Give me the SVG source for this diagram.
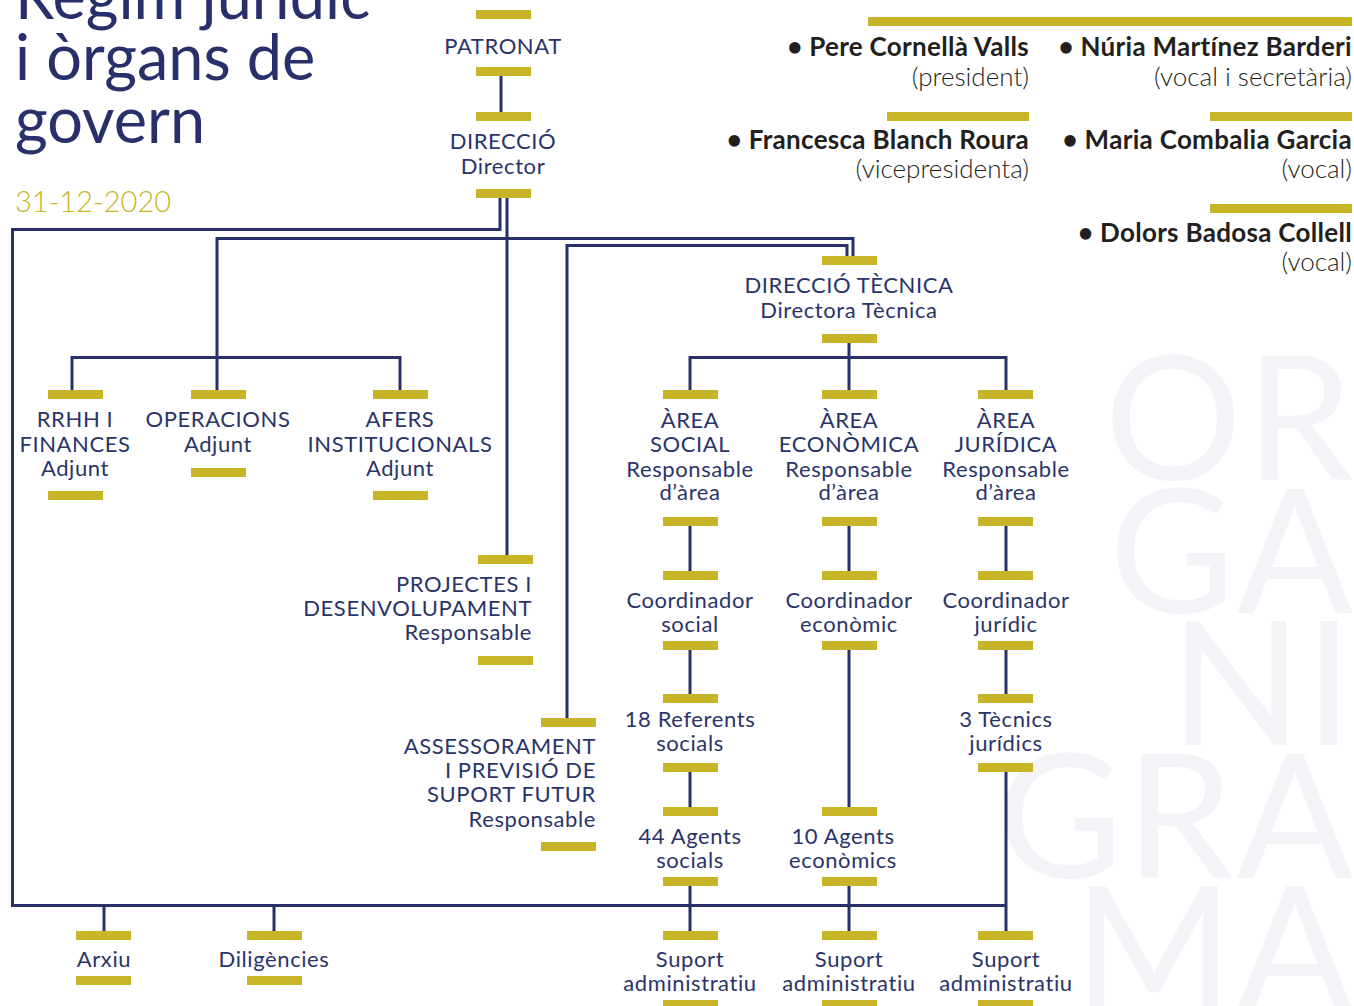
<svg xmlns="http://www.w3.org/2000/svg" width="1354" height="1006" viewBox="0 0 1354 1006">
<style>
.bar{fill:#C7B427}
.t{font-family:Lato,"Open Sans",sans-serif;font-size:22px;letter-spacing:0.6px;fill:#2A3468;text-anchor:middle}
.r{text-anchor:end}
.nm{font-family:Lato,"Open Sans",sans-serif;font-size:26px;font-weight:700;letter-spacing:0.3px;fill:#231F20;text-anchor:end}
.sb{font-family:Lato,"Open Sans",sans-serif;font-size:26px;font-weight:300;fill:#231F20;text-anchor:end}
.wm{font-family:Lato,"Open Sans",sans-serif;font-size:172px;font-weight:400;letter-spacing:3px;fill:#F4F3F7;text-anchor:end}
.title{font-family:Lato,"Open Sans",sans-serif;font-size:63px;fill:#27306B}
.date{font-family:Lato,"Open Sans",sans-serif;font-size:29px;font-weight:300;fill:#C7B427}
.cn{fill:none;stroke:#27306B;stroke-width:3}
</style>
<rect width="1354" height="1006" fill="#FFFFFF"/>
<g id="watermark">
<text class="wm" x="1356" y="480">OR</text>
<text class="wm" x="1356" y="613">GA</text>
<text class="wm" x="1356" y="745">NI</text>
<text class="wm" x="1356" y="878">GRA</text>
<text class="wm" x="1356" y="1010">MA</text>
</g>
<g id="title">
<text class="title" x="15" y="19">Règim jurídic</text>
<text class="title" x="15" y="80">i òrgans de</text>
<text class="title" x="15" y="143">govern</text>
<text class="date" x="15" y="212">31-12-2020</text>
</g>
<g id="patronat-members">
<rect class="bar" x="868" y="17" width="484" height="9"/>
<text class="nm" x="1029" y="56">• Pere Cornellà Valls</text>
<text class="sb" x="1029" y="86">(president)</text>
<text class="nm" x="1352" y="56">• Núria Martínez Barderi</text>
<text class="sb" x="1352" y="86">(vocal i secretària)</text>
<rect class="bar" x="887" y="112" width="142" height="9"/>
<rect class="bar" x="1210" y="112" width="142" height="9"/>
<text class="nm" x="1029" y="149">• Francesca Blanch Roura</text>
<text class="sb" x="1029" y="178">(vicepresidenta)</text>
<text class="nm" x="1352" y="149">• Maria Combalia Garcia</text>
<text class="sb" x="1352" y="178">(vocal)</text>
<rect class="bar" x="1210" y="204" width="142" height="9"/>
<text class="nm" x="1352" y="242">• Dolors Badosa Collell</text>
<text class="sb" x="1352" y="271">(vocal)</text>
</g>
<g id="connectors">
<path class="cn" d="M501,76 V112"/>
<path class="cn" d="M500,198 V229.5 H12.5 V905.5 H1006"/>
<path class="cn" d="M507,198 V555"/>
<path class="cn" d="M217,390 V238.5 H853 V256"/>
<path class="cn" d="M567,718 V245.5 H847 V256"/>
<path class="cn" d="M72,390 V357.5 H400 V390"/>
<path class="cn" d="M849,343 V390"/>
<path class="cn" d="M690,390 V357.5 H1006 V390"/>
<path class="cn" d="M690,526 V571 M690,650 V694 M690,772 V807 M690,886 V931"/>
<path class="cn" d="M849,526 V571 M849,650 V807 M849,886 V931"/>
<path class="cn" d="M1006,526 V571 M1006,650 V694 M1006,772 V931"/>
<path class="cn" d="M104,905 V931 M274,905 V931"/>
</g>
<g id="node-patronat">
<rect class="bar" x="476" y="10" width="55" height="9"/>
<text class="t" x="503" y="54">PATRONAT</text>
<rect class="bar" x="476" y="67" width="55" height="9"/>
</g>
<g id="node-direccio">
<rect class="bar" x="476" y="112" width="55" height="9"/>
<text class="t" x="503" y="149">DIRECCIÓ</text>
<text class="t" x="503" y="174">Director</text>
<rect class="bar" x="476" y="189" width="55" height="9"/>
</g>
<g id="node-rrhh">
<rect class="bar" x="48" y="390" width="55" height="9"/>
<text class="t" x="75" y="427">RRHH I</text>
<text class="t" x="75" y="452">FINANCES</text>
<text class="t" x="75" y="476">Adjunt</text>
<rect class="bar" x="48" y="491" width="55" height="9"/>
</g>
<g id="node-operacions">
<rect class="bar" x="191" y="390" width="55" height="9"/>
<text class="t" x="218" y="427">OPERACIONS</text>
<text class="t" x="218" y="452">Adjunt</text>
<rect class="bar" x="191" y="468" width="55" height="9"/>
</g>
<g id="node-afers">
<rect class="bar" x="373" y="390" width="55" height="9"/>
<text class="t" x="400" y="427">AFERS</text>
<text class="t" x="400" y="452">INSTITUCIONALS</text>
<text class="t" x="400" y="476">Adjunt</text>
<rect class="bar" x="373" y="491" width="55" height="9"/>
</g>
<g id="node-projectes">
<rect class="bar" x="478" y="555" width="55" height="9"/>
<text class="t r" x="532" y="592">PROJECTES I</text>
<text class="t r" x="532" y="616">DESENVOLUPAMENT</text>
<text class="t r" x="532" y="640">Responsable</text>
<rect class="bar" x="478" y="656" width="55" height="9"/>
</g>
<g id="node-assessorament">
<rect class="bar" x="541" y="718" width="55" height="9"/>
<text class="t r" x="596" y="754">ASSESSORAMENT</text>
<text class="t r" x="596" y="778">I PREVISIÓ DE</text>
<text class="t r" x="596" y="802">SUPORT FUTUR</text>
<text class="t r" x="596" y="827">Responsable</text>
<rect class="bar" x="541" y="842" width="55" height="9"/>
</g>
<g id="node-direccio-tecnica">
<rect class="bar" x="822" y="256" width="55" height="9"/>
<text class="t" x="849" y="293">DIRECCIÓ TÈCNICA</text>
<text class="t" x="849" y="318">Directora Tècnica</text>
<rect class="bar" x="822" y="334" width="55" height="9"/>
</g>
<g id="node-area-social">
<rect class="bar" x="663" y="390" width="55" height="9"/>
<text class="t" x="690" y="428">ÀREA</text>
<text class="t" x="690" y="452">SOCIAL</text>
<text class="t" x="690" y="477">Responsable</text>
<text class="t" x="690" y="500">d’àrea</text>
<rect class="bar" x="663" y="517" width="55" height="9"/>
</g>
<g id="node-area-economica">
<rect class="bar" x="822" y="390" width="55" height="9"/>
<text class="t" x="849" y="428">ÀREA</text>
<text class="t" x="849" y="452">ECONÒMICA</text>
<text class="t" x="849" y="477">Responsable</text>
<text class="t" x="849" y="500">d’àrea</text>
<rect class="bar" x="822" y="517" width="55" height="9"/>
</g>
<g id="node-area-juridica">
<rect class="bar" x="978" y="390" width="55" height="9"/>
<text class="t" x="1006" y="428">ÀREA</text>
<text class="t" x="1006" y="452">JURÍDICA</text>
<text class="t" x="1006" y="477">Responsable</text>
<text class="t" x="1006" y="500">d’àrea</text>
<rect class="bar" x="978" y="517" width="55" height="9"/>
</g>
<g id="node-coord-social">
<rect class="bar" x="663" y="571" width="55" height="9"/>
<text class="t" x="690" y="608">Coordinador</text>
<text class="t" x="690" y="632">social</text>
<rect class="bar" x="663" y="641" width="55" height="9"/>
</g>
<g id="node-coord-economic">
<rect class="bar" x="822" y="571" width="55" height="9"/>
<text class="t" x="849" y="608">Coordinador</text>
<text class="t" x="849" y="632">econòmic</text>
<rect class="bar" x="822" y="641" width="55" height="9"/>
</g>
<g id="node-coord-juridic">
<rect class="bar" x="978" y="571" width="55" height="9"/>
<text class="t" x="1006" y="608">Coordinador</text>
<text class="t" x="1006" y="632">jurídic</text>
<rect class="bar" x="978" y="641" width="55" height="9"/>
</g>
<g id="node-referents">
<rect class="bar" x="663" y="694" width="55" height="9"/>
<text class="t" x="690" y="727">18 Referents</text>
<text class="t" x="690" y="751">socials</text>
<rect class="bar" x="663" y="763" width="55" height="9"/>
</g>
<g id="node-tecnics">
<rect class="bar" x="978" y="694" width="55" height="9"/>
<text class="t" x="1006" y="727">3 Tècnics</text>
<text class="t" x="1006" y="751">jurídics</text>
<rect class="bar" x="978" y="763" width="55" height="9"/>
</g>
<g id="node-agents-socials">
<rect class="bar" x="663" y="807" width="55" height="9"/>
<text class="t" x="690" y="844">44 Agents</text>
<text class="t" x="690" y="868">socials</text>
<rect class="bar" x="663" y="877" width="55" height="9"/>
</g>
<g id="node-agents-economics">
<rect class="bar" x="822" y="807" width="55" height="9"/>
<text class="t" x="843" y="844">10 Agents</text>
<text class="t" x="843" y="868">econòmics</text>
<rect class="bar" x="822" y="877" width="55" height="9"/>
</g>
<g id="node-arxiu">
<rect class="bar" x="76" y="931" width="55" height="9"/>
<text class="t" x="104" y="967">Arxiu</text>
<rect class="bar" x="76" y="976" width="55" height="9"/>
</g>
<g id="node-diligencies">
<rect class="bar" x="247" y="931" width="55" height="9"/>
<text class="t" x="274" y="967">Diligències</text>
<rect class="bar" x="247" y="976" width="55" height="9"/>
</g>
<g id="node-suport-social">
<rect class="bar" x="663" y="931" width="55" height="9"/>
<text class="t" x="690" y="967">Suport</text>
<text class="t" x="690" y="991">administratiu</text>
<rect class="bar" x="663" y="1000" width="55" height="9"/>
</g>
<g id="node-suport-economic">
<rect class="bar" x="822" y="931" width="55" height="9"/>
<text class="t" x="849" y="967">Suport</text>
<text class="t" x="849" y="991">administratiu</text>
<rect class="bar" x="822" y="1000" width="55" height="9"/>
</g>
<g id="node-suport-juridic">
<rect class="bar" x="978" y="931" width="55" height="9"/>
<text class="t" x="1006" y="967">Suport</text>
<text class="t" x="1006" y="991">administratiu</text>
<rect class="bar" x="978" y="1000" width="55" height="9"/>
</g>
</svg>
